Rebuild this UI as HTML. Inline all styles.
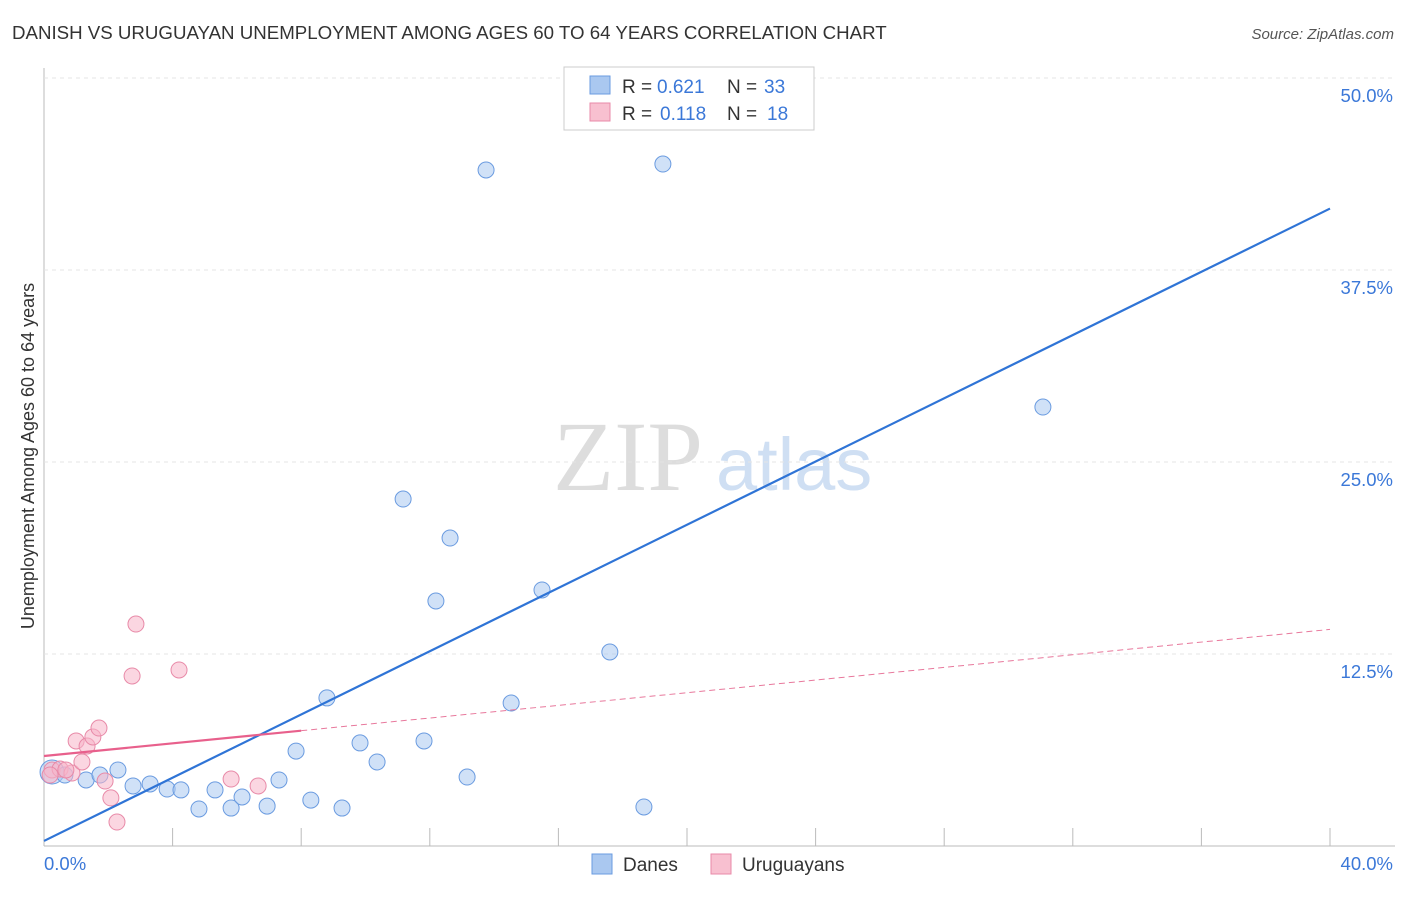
<!DOCTYPE html>
<html><head><meta charset="utf-8"><style>
body{margin:0;background:#fff;font-family:"Liberation Sans",sans-serif}
svg text{font-family:"Liberation Sans",sans-serif}
</style></head><body>
<svg id="c" width="1406" height="892">
<text x="12" y="39" font-size="18.7" fill="#333">DANISH VS URUGUAYAN UNEMPLOYMENT AMONG AGES 60 TO 64 YEARS CORRELATION CHART</text>
<text x="1394" y="39" font-size="15" fill="#555" font-style="italic" text-anchor="end">Source: ZipAtlas.com</text>
<text x="553" y="490" font-size="100" fill="#ddd" style="font-family:'Liberation Serif',serif">ZIP</text>
<text x="716" y="490" font-size="74" fill="#cfdff3">atlas</text>
<text transform="translate(34,456) rotate(-90)" font-size="18" fill="#333" text-anchor="middle">Unemployment Among Ages 60 to 64 years</text>
<g id="grid"></g><g id="marks"></g>
<g font-size="19">
<rect x="564" y="67" width="250" height="63" fill="#fff" stroke="#ccc"/>
<rect x="590" y="76" width="20" height="18" fill="#aac8f0" stroke="#6a9be0"/>
<text x="622" y="93" fill="#333">R =</text><text x="657" y="93" fill="#3b78d8">0.621</text>
<text x="727" y="93" fill="#333">N =</text><text x="764" y="93" fill="#3b78d8">33</text>
<rect x="590" y="103" width="20" height="18" fill="#f8c0d0" stroke="#e88aa8"/>
<text x="622" y="120" fill="#333">R =</text><text x="660" y="120" fill="#3b78d8">0.118</text>
<text x="727" y="120" fill="#333">N =</text><text x="767" y="120" fill="#3b78d8">18</text>
</g>
<g>
<rect x="592" y="854" width="20" height="20" fill="#aac8f0" stroke="#6a9be0"/>
<text x="623" y="871" font-size="19" fill="#333">Danes</text>
<rect x="711" y="854" width="20" height="20" fill="#f8c0d0" stroke="#e88aa8"/>
<text x="742" y="871" font-size="19" fill="#333">Uruguayans</text>
</g>
</svg>
<script>
const xTicks=[0,4,8,12,16,20,24,28,32,36,40];
const yTicks=[12.5,25,37.5,50];
const yTickLabels=["12.5%","25.0%","37.5%","50.0%"];
const danesX=[0.25,0.65,1.31,1.74,2.30,2.77,3.30,3.83,4.26,4.82,5.32,5.82,6.16,6.94,7.31,7.84,8.30,8.80,9.27,9.83,10.36,11.17,11.82,12.19,12.63,13.16,13.75,14.53,15.49,17.60,18.66,19.25,31.07];
const danesY=[4.82,4.62,4.30,4.62,4.95,3.91,4.04,3.71,3.65,2.41,3.65,2.47,3.19,2.60,4.30,6.18,2.99,9.64,2.47,6.71,5.47,22.59,6.84,15.95,20.05,4.49,44.01,9.31,16.67,12.63,2.54,44.40,28.58];
const uruX=[0.25,0.50,0.87,1.0,1.18,1.34,1.52,1.71,1.90,2.08,2.27,2.74,2.86,4.20,5.82,6.66,0.19,0.68];
const uruY=[4.95,5.01,4.75,6.84,5.47,6.51,7.10,7.68,4.23,3.13,1.56,11.07,14.45,11.46,4.36,3.91,4.62,4.95];
const danesTrend=[0.33,41.5];
const uruTrend=[5.86,14.1];
const NS="http://www.w3.org/2000/svg";
const X=v=>44+v*32.15, Y=v=>846-v*15.36;
function mk(t,a,p){const e=document.createElementNS(NS,t);for(const k in a)e.setAttribute(k,a[k]);p.appendChild(e);return e;}
const g=document.getElementById('grid'),m=document.getElementById('marks');
const ax=mk('line',{x1:44,y1:68,x2:44,y2:846,stroke:'#bbb'},g);


const bx=mk('line',{x1:44,y1:846,x2:1395,y2:846,stroke:'#bbb'},g);


yTicks.forEach((v,i)=>{
 const l=mk('line',{x1:44,y1:Y(v),x2:1395,y2:Y(v),stroke:'#e4e4e4','stroke-dasharray':'4,4'},g);
 
 
 const t=mk('text',{x:1393,y:Y(v)+24,'font-size':18.5,fill:'#3b78d8','text-anchor':'end'},g);t.textContent=yTickLabels[i];
 
 
});
xTicks.forEach(v=>{if(v===0)return;
 const l=mk('line',{x1:X(v),y1:828,x2:X(v),y2:846,stroke:'#bbb'},g);
 
 
});
[["0.0%",44,'start'],["40.0%",1393,'end']].forEach(a=>{const t=mk('text',{x:a[1],y:870,'font-size':18.5,fill:'#3b78d8','text-anchor':a[2]},g);t.textContent=a[0];
 
 });
danesX.forEach((v,i)=>{const c=mk('circle',{cx:X(v),cy:Y(danesY[i]),r:i===0?12:8,fill:'rgba(170,200,240,0.55)',stroke:'#6a9be0','stroke-width':1},m);
 
 });
uruX.forEach((v,i)=>{const c=mk('circle',{cx:X(v),cy:Y(uruY[i]),r:8,fill:'rgba(248,180,200,0.55)',stroke:'#e88aa8','stroke-width':1},m);
 
 });
const dl=mk('line',{x1:X(0),y1:Y(danesTrend[0]),x2:X(40),y2:Y(danesTrend[1]),stroke:'#2f74d6','stroke-width':2.2},m);


const uy=x=>uruTrend[0]+(uruTrend[1]-uruTrend[0])*x/40;
const ud=mk('line',{x1:X(8),y1:Y(uy(8)),x2:X(40),y2:Y(uy(40)),stroke:'#e8789c','stroke-width':1,'stroke-dasharray':'6,4'},m);


const us=mk('line',{x1:X(0),y1:Y(uy(0)),x2:X(8),y2:Y(uy(8)),stroke:'#e8608c','stroke-width':2.2},m);


</script>
</body></html>
